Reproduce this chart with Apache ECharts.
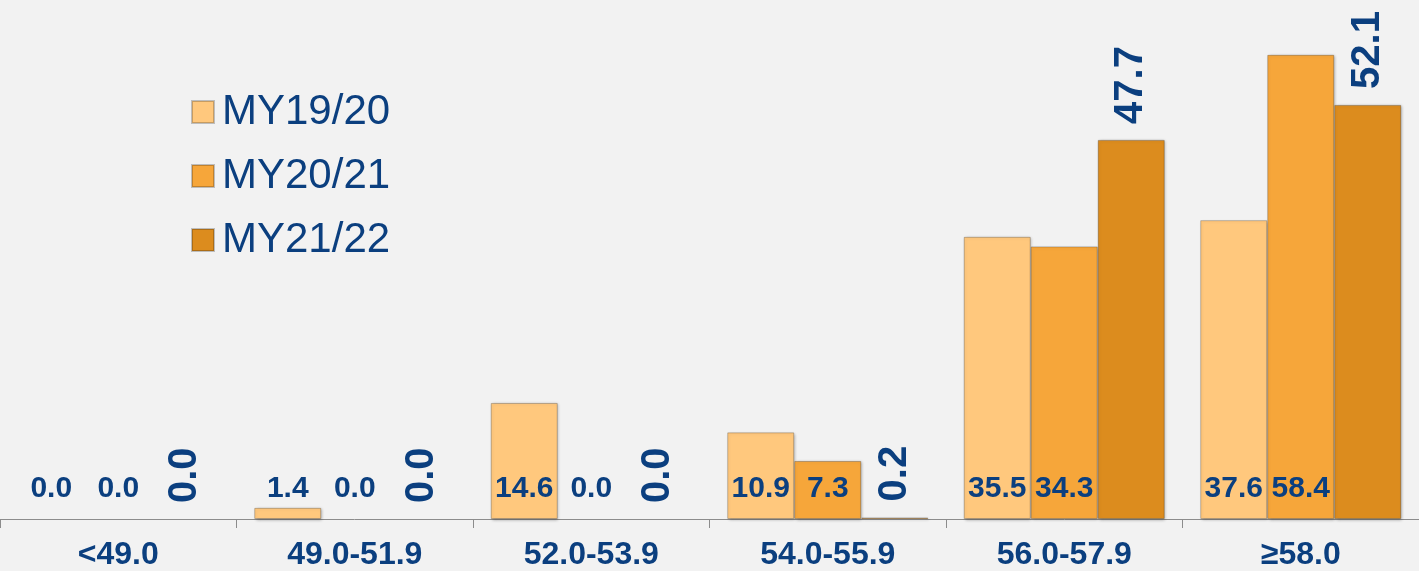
<!DOCTYPE html>
<html>
<head>
<meta charset="utf-8">
<script src="https://cdn.jsdelivr.net/npm/echarts@6/dist/echarts.min.js"></script>
<style>
  html, body { margin: 0; padding: 0; background: #f2f2f2; }
  #chart { width: 1419px; height: 571px; }
</style>
</head>
<body>
<div id="chart"></div>
<script>
// categories and values
const categories = ['<49.0', '49.0-51.9', '52.0-53.9', '54.0-55.9', '56.0-57.9', '≥58.0'];
const seriesNames = ['MY19/20', 'MY20/21', 'MY21/22'];
const my1920 = [0.0, 1.4, 14.6, 10.9, 35.5, 37.6];
const my2021 = [0.0, 0.0, 0.0, 7.3, 34.3, 58.4];
const my2122 = [0.0, 0.0, 0.0, 0.2, 47.7, 52.1];

const colors = ['#ffc87d', '#f6a63a', '#dc8c1e'];
const textBlue = '#0b3f7f';
const fontFamily = '"Liberation Sans", Arial, sans-serif';

let chart = echarts.init(document.getElementById('chart'));

const barShadow = {
  shadowColor: 'rgba(0, 0, 0, 0.3)',
  shadowBlur: 3,
  shadowOffsetX: 1,
  shadowOffsetY: 1,
  borderColor: 'rgba(0, 0, 0, 0.22)',
  borderWidth: 1
};

// zero-height bars draw nothing in the reference
function toData(values) {
  return values.map(v => v === 0
    ? { value: v, itemStyle: { borderWidth: 0, shadowBlur: 0, shadowOffsetX: 0, shadowOffsetY: 0 } }
    : v);
}

const flatLabel = {
  show: true,
  position: 'insideBottom',
  distance: 15,
  color: textBlue,
  fontFamily: fontFamily,
  fontWeight: 'bold',
  fontSize: 30,
  formatter: p => p.value.toFixed(1)
};

chart.setOption({
  backgroundColor: '#f2f2f2',
  animation: false,
  grid: { left: 0, right: 0, top: 0, bottom: 51 },
  legend: {
    orient: 'vertical',
    left: 186,
    top: 85,
    itemWidth: 22,
    itemHeight: 22,
    itemGap: 20,
    icon: 'rect',
    textStyle: { color: textBlue, fontFamily: fontFamily, fontSize: 42, lineHeight: 44, padding: [0, 0, 0, 3] },
    data: seriesNames
  },
  xAxis: {
    type: 'category',
    data: categories,
    axisLine: { lineStyle: { color: '#8c8c8c', width: 1 } },
    axisTick: { show: true, length: 9, lineStyle: { color: '#8c8c8c' } },
    axisLabel: {
      color: textBlue,
      fontFamily: fontFamily,
      fontWeight: 'bold',
      fontSize: 32,
      margin: 20
    }
  },
  yAxis: {
    type: 'value',
    min: 0,
    max: 65.3,
    show: false,
    splitLine: { show: false }
  },
  series: [
    {
      name: seriesNames[0],
      type: 'bar',
      data: toData(my1920),
      barGap: '0%',
      barCategoryGap: '15%',
      itemStyle: Object.assign({ color: colors[0] }, barShadow),
      label: flatLabel
    },
    {
      name: seriesNames[1],
      type: 'bar',
      data: toData(my2021),
      barGap: '0%',
      barCategoryGap: '15%',
      itemStyle: Object.assign({ color: colors[1] }, barShadow),
      label: flatLabel
    },
    {
      name: seriesNames[2],
      type: 'bar',
      data: toData(my2122),
      barGap: '0%',
      barCategoryGap: '15%',
      itemStyle: Object.assign({ color: colors[2] }, barShadow),
      label: {
        show: true,
        position: 'top',
        distance: 16,
        rotate: 90,
        align: 'left',
        verticalAlign: 'middle',
        color: textBlue,
        fontFamily: fontFamily,
        fontWeight: 'bold',
        fontSize: 40,
        formatter: p => p.value.toFixed(1)
      }
    }
  ]
});
</script>
</body>
</html>
